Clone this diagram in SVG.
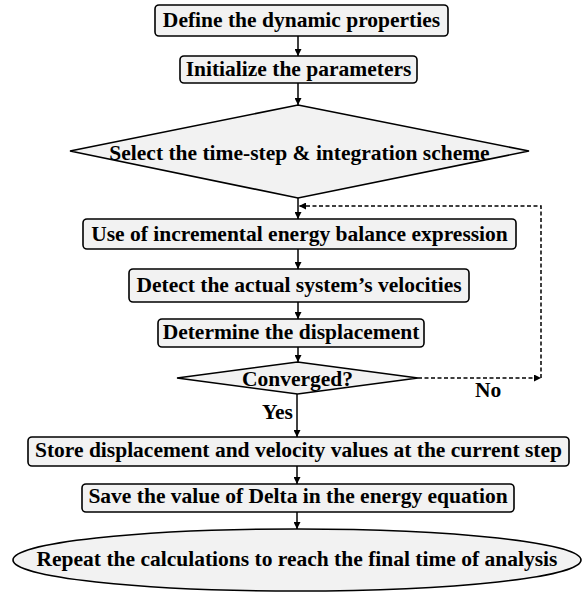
<svg xmlns="http://www.w3.org/2000/svg" width="588" height="592" viewBox="0 0 588 592">
<defs>
<style>
.n{fill:#f2f2f2;stroke:#000;stroke-width:1.6}
.t{font-family:"Liberation Serif","Times New Roman",serif;font-weight:bold;font-size:21.5px;fill:#000;text-anchor:middle}
.c{fill:none;stroke:#000;stroke-width:1.5}
.d{fill:none;stroke:#000;stroke-width:1.5;stroke-dasharray:4 2.5}
</style>
<marker id="a" markerUnits="userSpaceOnUse" markerWidth="7" markerHeight="7" refX="7" refY="3.5" orient="auto">
<path d="M0,0 L7,3.5 L0,7 z" fill="#000"/>
</marker>
</defs>
<g id="connectors">
<path class="c" d="M298,36 V56" marker-end="url(#a)"/>
<path class="c" d="M298,83 V105" marker-end="url(#a)"/>
<path class="c" d="M298,198 V219" marker-end="url(#a)"/>
<path class="c" d="M298,249 V269" marker-end="url(#a)"/>
<path class="c" d="M298,302 V319" marker-end="url(#a)"/>
<path class="c" d="M298,347 V362" marker-end="url(#a)"/>
<path class="c" d="M297,394 V437" marker-end="url(#a)"/>
<path class="c" d="M297,466 V484" marker-end="url(#a)"/>
<path class="c" d="M297,512 V529" marker-end="url(#a)"/>
<path class="d" d="M418,378 H541" marker-end="url(#a)"/>
<path class="d" d="M541,378 V206 H299" marker-end="url(#a)"/>
<text class="t" x="293" y="419" style="text-anchor:end">Yes</text>
<text class="t" x="475" y="397" style="text-anchor:start">No</text>
</g>
<g id="define">
<rect class="n" x="155" y="5" width="293" height="31" rx="4"/>
<text class="t" x="301.5" y="27">Define the dynamic properties</text>
</g>
<g id="initialize">
<rect class="n" x="180" y="56" width="237" height="27" rx="4"/>
<text class="t" x="298.5" y="75.5">Initialize the parameters</text>
</g>
<g id="select">
<polygon class="n" points="298,105 529,151 298,198 70,151"/>
<text class="t" x="299.5" y="160">Select the time-step &amp; integration scheme</text>
</g>
<g id="use">
<rect class="n" x="83" y="219" width="433" height="30" rx="4"/>
<text class="t" x="299.5" y="240.5">Use of incremental energy balance expression</text>
</g>
<g id="detect">
<rect class="n" x="129" y="269" width="340" height="33" rx="4"/>
<text class="t" x="299" y="292">Detect the actual system’s velocities</text>
</g>
<g id="determine">
<rect class="n" x="158" y="319" width="266" height="28" rx="4"/>
<text class="t" x="291" y="338.5">Determine the displacement</text>
</g>
<g id="converged">
<polygon class="n" points="297.5,362 418,378 297.5,394 177,378"/>
<text class="t" x="297.5" y="385.5">Converged?</text>
</g>
<g id="store">
<rect class="n" x="28" y="437" width="541" height="29" rx="4"/>
<text class="t" x="298.5" y="457">Store displacement and velocity values at the current step</text>
</g>
<g id="save">
<rect class="n" x="82" y="484" width="432" height="28" rx="4"/>
<text class="t" x="298" y="503">Save the value of Delta in the energy equation</text>
</g>
<g id="repeat">
<ellipse class="n" cx="297" cy="560" rx="284" ry="31"/>
<text class="t" x="297" y="566">Repeat the calculations to reach the final time of analysis</text>
</g>
</svg>
